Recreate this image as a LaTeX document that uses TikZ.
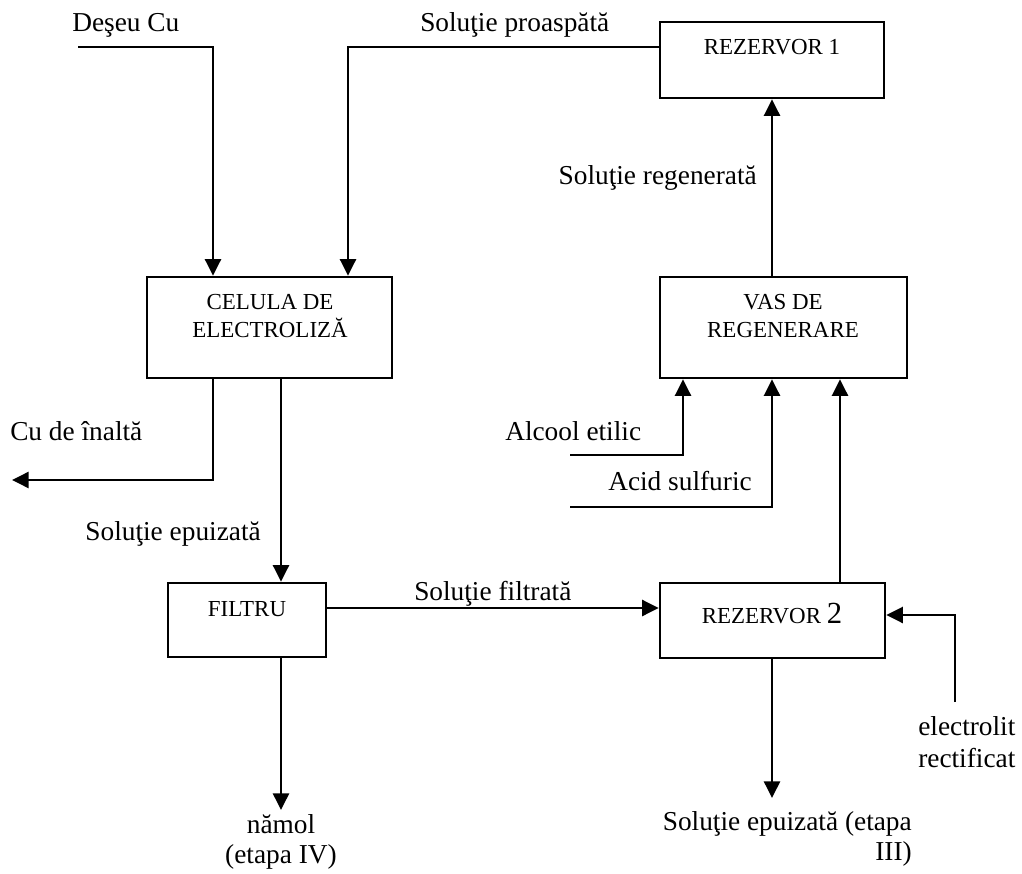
\documentclass[tikz,border=0pt]{standalone}
\usepackage{fontspec}
\setmainfont{Liberation Serif}
\usetikzlibrary{arrows.meta,fit}

\begin{document}
\begin{tikzpicture}[x=0.75pt,y=-0.75pt,
  box/.style={draw,line width=1.9pt,inner sep=0pt},
  boxtext/.style={font=\fontsize{17.2}{21}\selectfont,inner sep=0pt,align=center},
  lbl/.style={font=\fontsize{20.5}{22.5}\selectfont,inner sep=0pt},
  flow/.style={line width=1.9pt,-{Triangle[length=12.5pt,width=12pt]}}]
\useasboundingbox (0,0) rectangle (1022,874);

% process units
\node[box,fit={(660,22) (884,98)}] (rez1) {};
\node[box,fit={(147,277) (392,378)}] (celula) {};
\node[box,fit={(660,277) (907,378)}] (vas) {};
\node[box,fit={(168,583) (326,657)}] (filtru) {};
\node[box,fit={(660,583) (885,658)}] (rez2) {};

% unit names (base anchor = baseline of the last line)
\node[boxtext,anchor=base] (trez1) at (772,55) {REZERVOR 1};
\node[boxtext,anchor=base] (tcel) at (270,337) {CELULA DE\\ELECTROLIZĂ};
\node[boxtext,anchor=base] (tvas) at (783,337) {VAS DE\\REGENERARE};
\node[boxtext,anchor=base] (tfil) at (247,616) {FILTRU};
\node[boxtext,anchor=base] (trez2) at (772,623) {REZERVOR {\fontsize{23}{23}\selectfont 2}};

% stream labels
\node[lbl,anchor=base west] (ldeseu) at (72,32) {Deşeu Cu};
\node[lbl,anchor=base west] (lproasp) at (420,32) {Soluţie proaspătă};
\node[lbl,anchor=base east] (lregen) at (757,185) {Soluţie regenerată};
\node[lbl,anchor=base west] (lcu) at (10,440) {Cu de înaltă};
\node[lbl,anchor=base east] (lepuiz) at (261,540) {Soluţie epuizată};
\node[lbl,anchor=base west] (lalcool) at (505,440) {Alcool etilic};
\node[lbl,anchor=base east] (lacid) at (752,490) {Acid sulfuric};
\node[lbl,anchor=base west] (lfiltr) at (414,600) {Soluţie filtrată};
\node[lbl,anchor=base,align=center] (lnamol) at (281,863) {nămol\\(etapa IV)};
\node[lbl,anchor=base east,align=right] (lepuiz2) at (912,860) {Soluţie epuizată (etapa\\III)};
\node[lbl,anchor=base west,align=left,font=\fontsize{20.5}{24}\selectfont] (lelectro) at (918,767) {electrolit\\rectificat};

% free ends and bends
\coordinate (deseuin) at (78,47);
\coordinate (c1) at (213,47);
\coordinate (c2) at (348,47);
\coordinate (cuout) at (12,480);
\coordinate (c3) at (281,0);
\coordinate (c4) at (0,608);
\coordinate (namolend) at (281,810);
\coordinate (epend) at (772,798);
\coordinate (elin) at (955,702);
\coordinate (c5) at (0,615);
\coordinate (c6) at (840,0);
\coordinate (alin) at (570,455);
\coordinate (c7) at (683,455);
\coordinate (acin) at (570,507);
\coordinate (c8) at (772,507);

% connections
\draw[flow] (deseuin) -- (c1) -- (c1 |- celula.north);
\draw[flow] (rez1.west |- c2) -- (c2) -- (c2 |- celula.north);
\draw[flow] (vas.north -| rez1) -- (rez1.south);
\draw[flow] (c1 |- celula.south) -- (c1 |- cuout) -- (cuout);
\draw[flow] (celula.south -| c3) -- (filtru.north -| c3);
\draw[flow] (filtru.east |- c4) -- (rez2.west |- c4);
\draw[flow] (filtru.south -| namolend) -- (namolend);
\draw[flow] (rez2.south -| epend) -- (epend);
\draw[flow] (elin) -- (elin |- c5) -- (rez2.east |- c5);
\draw[flow] (rez2.north -| c6) -- (vas.south -| c6);
\draw[flow] (alin) -- (c7) -- (c7 |- vas.south);
\draw[flow] (acin) -- (c8) -- (c8 |- vas.south);
\end{tikzpicture}
\end{document}
